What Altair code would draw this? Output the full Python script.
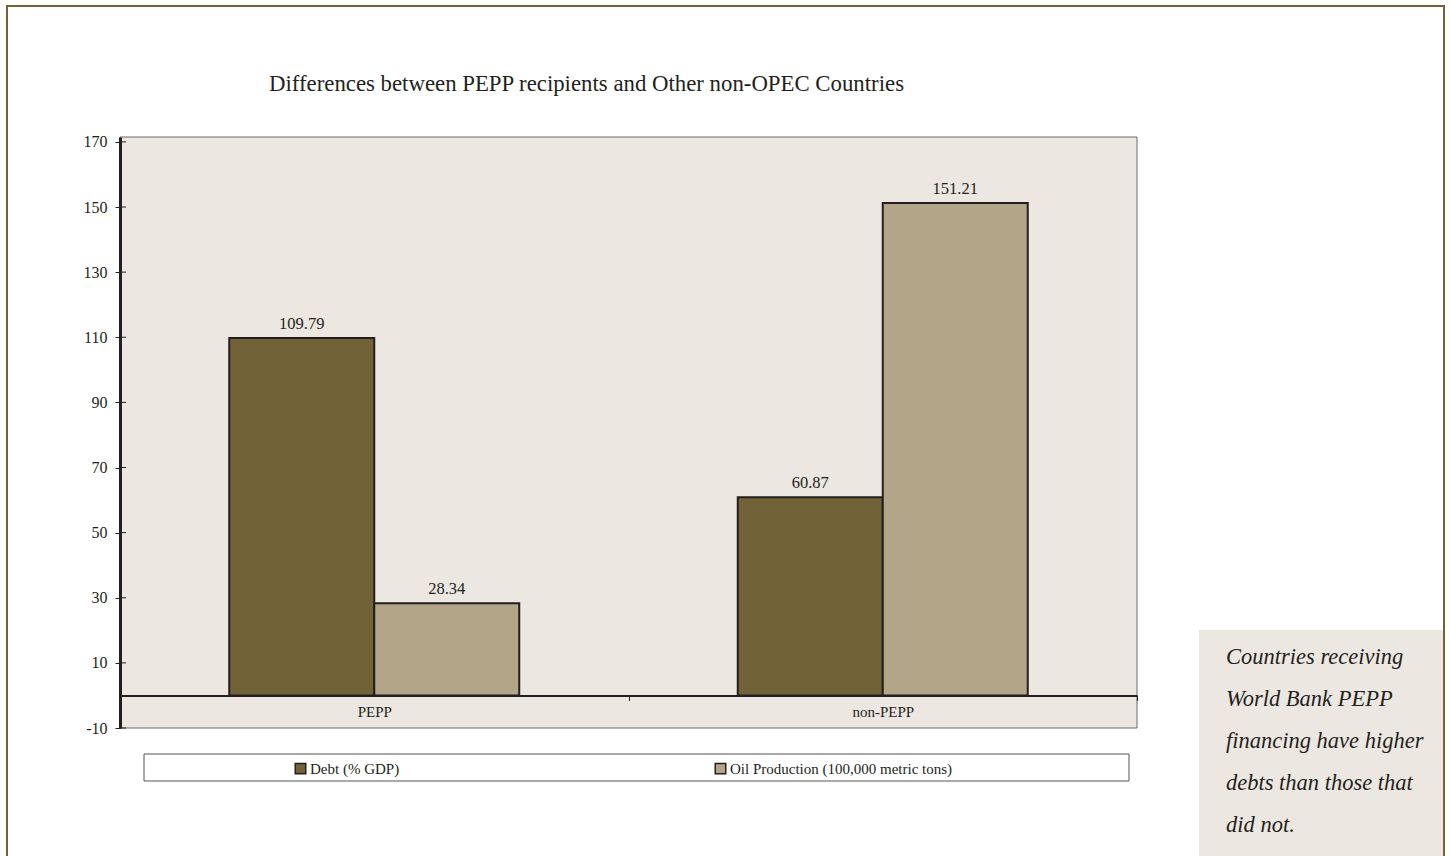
import altair as alt
import pandas as pd

categories = ["PEPP", "non-PEPP"]
series = ["Debt (% GDP)", "Oil Production (100,000 metric tons)"]
debt = [109.79, 60.87]
oil = [28.34, 151.21]
y_ticks = [-10, 10, 30, 50, 70, 90, 110, 130, 150, 170]
colors = ["#726237", "#b3a588"]
title_text = "Differences between PEPP recipients and Other non-OPEC Countries"
note_lines = ["Countries receiving", "World Bank PEPP", "financing have higher",
              "debts than those that", "did not."]

rows = []
for i, c in enumerate(categories):
    rows.append({"category": c, "series": series[0], "value": debt[i]})
    rows.append({"category": c, "series": series[1], "value": oil[i]})
df = pd.DataFrame(rows)

FONT = "Liberation Serif"
INK = "#231f20"
BG = "#ece7e0"
W, H = 1017, 591
ydom = [-10, 171.5]
zero_offset = -(0 - ydom[0]) / (ydom[1] - ydom[0]) * H

xscale = alt.Scale(paddingInner=0, paddingOuter=0)
oscale = alt.Scale(paddingInner=0, paddingOuter=0.7535)
yscale = alt.Scale(domain=ydom, nice=False, zero=False)

base = alt.Chart(df)
one = pd.DataFrame({"a": [0]})

plot_bg = alt.Chart(one).mark_rect(fill=BG, stroke="#6a6a6a", strokeWidth=1).encode(
    x=alt.value(0), x2=alt.value(W), y=alt.value(0), y2=alt.value(H))

xaxis = alt.Axis(orient="bottom", offset=zero_offset, tickBand="extent", zindex=1,
                 domainColor=INK, domainWidth=2, tickColor=INK, tickSize=5,
                 labelAngle=0, labelFontSize=15, labelColor=INK,
                 labelPadding=4, labelFont=FONT)
yaxis = alt.Axis(values=y_ticks, labelExpr="'' + datum.value", grid=False, zindex=1,
                 domainColor=INK, domainWidth=3, tickColor=INK, tickSize=5,
                 labelFontSize=16, labelColor=INK, labelPadding=8, labelFont=FONT)

bars = base.mark_bar(stroke=INK, strokeWidth=2).encode(
    x=alt.X("category:N", sort=categories, title=None, scale=xscale, axis=xaxis),
    xOffset=alt.XOffset("series:N", sort=series, scale=oscale),
    y=alt.Y("value:Q", scale=yscale, title=None, axis=yaxis),
    color=alt.Color("series:N", sort=series,
                    scale=alt.Scale(domain=series, range=colors),
                    legend=alt.Legend(title=None, orient="none", legendX=173, legendY=624,
                                      direction="horizontal", symbolType="square",
                                      symbolSize=110, symbolStrokeColor=INK,
                                      symbolStrokeWidth=1.5, labelFontSize=15,
                                      labelColor=INK, labelFont=FONT, labelOffset=2,
                                      columnPadding=312, labelLimit=400)),
)

labels = base.mark_text(baseline="bottom", dy=-6, fontSize=16.5, color=INK, font=FONT).encode(
    x=alt.X("category:N", sort=categories, scale=xscale, title=None, axis=xaxis),
    xOffset=alt.XOffset("series:N", sort=series, scale=oscale),
    y=alt.Y("value:Q", scale=yscale, title=None, axis=yaxis),
    text=alt.Text("value:Q", format=".2f"),
)

inner_ticks = alt.Chart(pd.DataFrame({"t": y_ticks})).mark_rule(color=INK, strokeWidth=1).encode(
    y=alt.Y("t:Q", scale=yscale, title=None, axis=yaxis), x=alt.value(0), x2=alt.value(6))

legend_box = alt.Chart(one).mark_rect(fill="white", stroke="#555555", strokeWidth=1).encode(
    x=alt.value(24), x2=alt.value(1009), y=alt.value(617), y2=alt.value(644))

note_box = alt.Chart(one).mark_rect(fill=BG).encode(
    x=alt.value(1079), x2=alt.value(1323), y=alt.value(493), y2=alt.value(740))

note = alt.Chart(one).mark_text(align="left", baseline="alphabetic", fontSize=22.5,
                                fontStyle="italic", font=FONT, color=INK,
                                lineHeight=42, lineBreak="\n").encode(
    x=alt.value(1106), y=alt.value(527), text=alt.value("\n".join(note_lines)))

title = alt.Chart(one).mark_text(align="left", baseline="alphabetic", fontSize=22.8,
                                 font=FONT, color=INK).encode(
    x=alt.value(149), y=alt.value(-46), text=alt.value(title_text))

frame = alt.Chart(one).mark_rect(filled=False, stroke="#736236", strokeWidth=2).encode(
    x=alt.value(-113), x2=alt.value(1324), y=alt.value(-131), y2=alt.value(760))

chart = alt.layer(frame, plot_bg, legend_box, note_box, inner_ticks, bars, labels,
                  note, title).properties(
    width=W, height=H,
    autosize=alt.AutoSizeParams(type="none"),
    padding={"left": 120, "top": 137, "right": 313, "bottom": 128},
    background="white",
).configure(font=FONT, view=alt.ViewConfig(stroke=None))

chart.save("out.html", embed_options={"renderer": "svg", "actions": False})
